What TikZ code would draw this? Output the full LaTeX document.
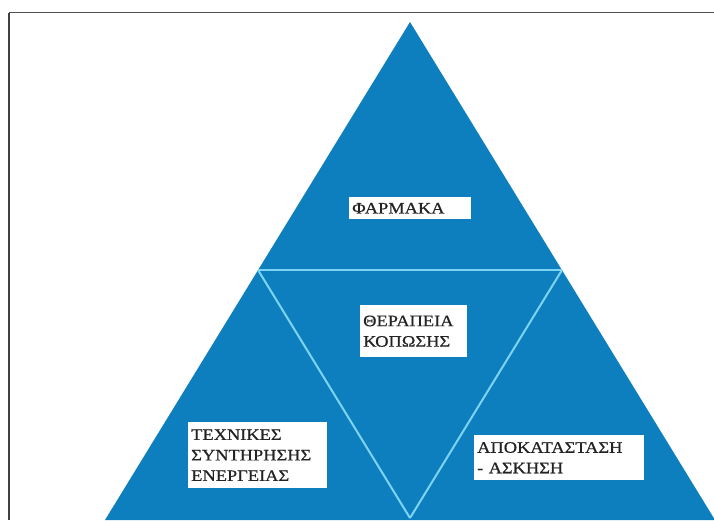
\documentclass[tikz,border=0pt]{standalone}
\usepackage{fontspec}
\newfontfamily\grfont[FakeStretch=1.15,FakeBold=0.6]{Liberation Serif}
\definecolor{triblue}{RGB}{14,127,190}
\definecolor{sepline}{RGB}{125,212,242}
\definecolor{frameline}{RGB}{80,80,80}
\definecolor{txtgray}{RGB}{35,35,35}
\begin{document}
\begin{tikzpicture}[x=1pt,y=-1pt,
  labelbox/.style={fill=white, draw=none, anchor=north west, align=left,
    inner xsep=3pt, inner ysep=2pt, text=txtgray,
    font=\grfont\fontsize{16}{20.5}\selectfont},
  sep/.style={draw=sepline, line width=2pt}]
\useasboundingbox (0,0) rectangle (714,520);
\fill[white] (0,0) rectangle (714,520);
% frame
\draw[frameline, line width=1.5pt] (9,12.5) -- (714,12.5);
\draw[frameline!80!black, line width=2pt] (9,12.5) -- (9,520);
% triangle vertices
\coordinate (apex) at (410,22);
\coordinate (bl) at (105,520);
\coordinate (br) at (715,520);
\coordinate (ml) at (258,270);
\coordinate (mr) at (562,270);
\coordinate (mb) at (410,518);
\begin{scope}
\clip (0,0) rectangle (714,520);
\fill[triblue] (apex) -- (bl) -- (br) -- cycle;
\draw[sep] (ml) -- (mr);
\draw[sep] (ml) -- (mb);
\draw[sep] (mr) -- (mb);
\end{scope}
% labels
\node[labelbox, minimum width=122pt, minimum height=22pt, text width=116pt] (farmaka) at (349,197) {ΦΑΡΜΑΚΑ};
\node[labelbox, minimum width=107pt, minimum height=52pt, text width=101pt] (therapeia) at (360,305) {ΘΕΡΑΠΕΙΑ\\ΚΟΠΩΣΗΣ};
\node[labelbox, minimum width=139pt, minimum height=66pt, text width=133pt] (texnikes) at (188,422) {ΤΕΧΝΙΚΕΣ\\ΣΥΝΤΗΡΗΣΗΣ\\ΕΝΕΡΓΕΙΑΣ};
\node[labelbox, minimum width=170pt, minimum height=45pt, text width=164pt] (apokat) at (474,435) {ΑΠΟΚΑΤΑΣΤΑΣΗ\\- ΑΣΚΗΣΗ};
\end{tikzpicture}
\end{document}
